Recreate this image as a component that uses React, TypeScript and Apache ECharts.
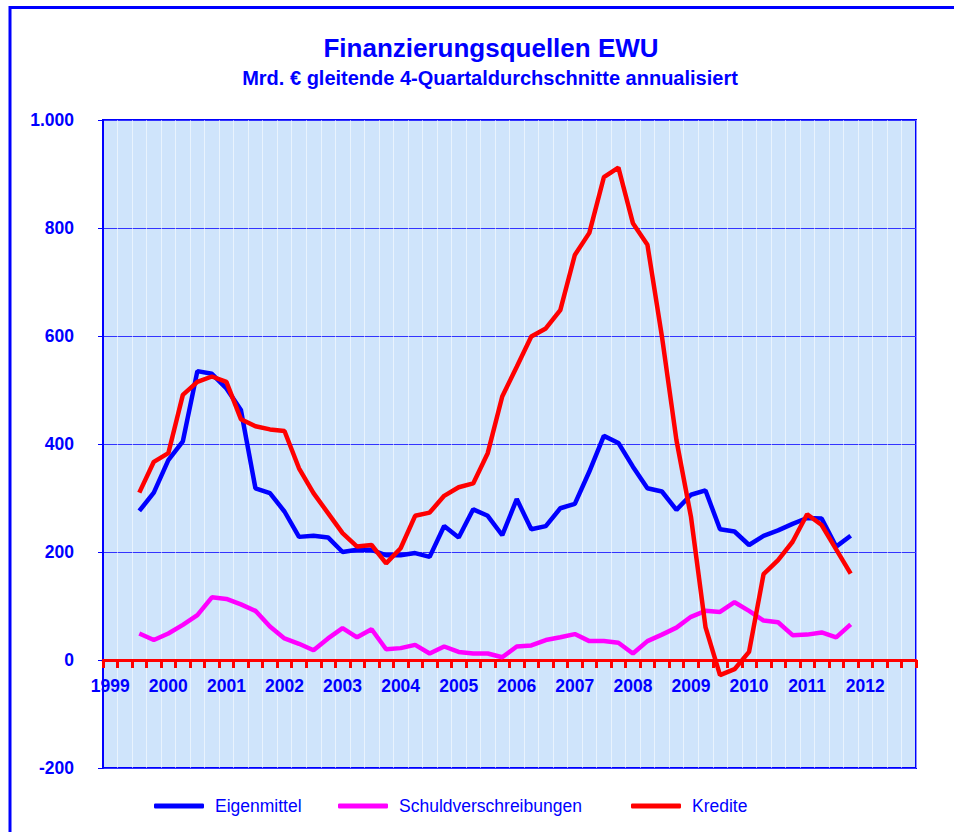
import React, { useEffect, useRef } from "react";
import * as echarts from "echarts";

const FONT = "'Liberation Sans', Arial, Helvetica, sans-serif";

const years = [1999, 2000, 2001, 2002, 2003, 2004, 2005, 2006, 2007, 2008, 2009, 2010, 2011, 2012];
const quarterNames = ["Q1", "Q2", "Q3", "Q4"];
const categories = years.flatMap((y) => quarterNames.map((q) => `${y} ${q}`));

// first observation: 1999 Q3 (category index 2), last: 2011 Q4
const firstIndex = 2;

const eigenmittel = [
  276, 310, 370, 405, 535, 530, 503, 463, 318, 309,
  275, 228, 230, 227, 200, 204, 204, 194, 194, 198,
  191, 248, 227, 279, 267, 231, 298, 242, 248, 281,
  289, 349, 415, 402, 358, 318, 312, 278, 306, 314,
  242, 238, 213, 230, 240, 252, 263, 262, 210, 230,
];

const schuldverschreibungen = [
  49, 37, 49, 65, 83, 116, 113, 103, 91, 62,
  40, 30, 18, 40, 59, 42, 57, 20, 22, 28,
  12, 25, 15, 12, 12, 5, 25, 27, 37, 42,
  48, 35, 35, 32, 12, 35, 47, 60, 80, 91,
  89, 107, 91, 73, 70, 46, 47, 51, 42, 66,
];

const kredite = [
  310, 367, 383, 491, 515, 525, 515, 446, 433, 427,
  424, 355, 309, 272, 235, 210, 213, 179, 207, 267,
  273, 304, 320, 327, 383, 488, 543, 599, 614, 648,
  750, 791, 894, 912, 809, 769, 599, 407, 265, 61,
  -28, -17, 15, 159, 185, 219, 270, 250, 205, 160,
];

const yTicks = { min: -200, max: 1000, interval: 200 };

function pad(values: number[]): (number | null)[] {
  const out: (number | null)[] = categories.map(() => null);
  values.forEach((v, i) => {
    out[firstIndex + i] = v;
  });
  return out;
}

const seriesDefs = [
  { name: "Eigenmittel", color: "#0000ff", values: eigenmittel, legendLeft: 149 },
  { name: "Schuldverschreibungen", color: "#ff00ff", values: schuldverschreibungen, legendLeft: 333 },
  { name: "Kredite", color: "#ff0000", values: kredite, legendLeft: 626 },
];

function formatY(v: number): string {
  const s = Math.abs(v).toString().replace(/\B(?=(\d{3})+(?!\d))/g, ".");
  return v < 0 ? "-" + s : s;
}

const GRID_TOP = 120;
const GRID_BOTTOM_PX = 768;

export default function App() {
  const ref = useRef<HTMLDivElement>(null);

  useEffect(() => {
    if (!ref.current) return;
    const chart = echarts.init(ref.current, undefined, { renderer: "svg" });
    // x axis sits on the zero line: shift it up by the pixel height of the range [min, 0]
    const plotH = GRID_BOTTOM_PX - GRID_TOP;
    const zeroShift = (plotH * (0 - yTicks.min)) / (yTicks.max - yTicks.min);
    const option: any = {
      animation: false,
      backgroundColor: "#ffffff",
      textStyle: { fontFamily: FONT },
      graphic: [
        {
          type: "rect",
          silent: true,
          shape: { x: 10, y: 7.5, width: 1200, height: 1200 },
          style: { fill: "none", stroke: "#0000ff", lineWidth: 3 },
        },
        {
          type: "text",
          x: 491,
          y: 48,
          style: {
            text: "Finanzierungsquellen EWU",
            fontSize: 26,
            fontWeight: "bold",
            fontFamily: FONT,
            fill: "#0000ff",
            textAlign: "center",
            textVerticalAlign: "middle",
          },
        },
        {
          type: "text",
          x: 490,
          y: 78,
          style: {
            text: "Mrd. € gleitende 4-Quartaldurchschnitte annualisiert",
            fontSize: 20,
            fontWeight: "bold",
            fontFamily: FONT,
            fill: "#0000ff",
            textAlign: "center",
            textVerticalAlign: "middle",
          },
        },
      ],
      grid: {
        left: 103,
        right: 38,
        top: GRID_TOP,
        bottom: 832 - GRID_BOTTOM_PX,
        show: true,
        backgroundColor: "#cfe4fb",
        borderColor: "#0000ff",
        borderWidth: 2,
      },
      legend: seriesDefs.map((s) => ({
        data: [s.name],
        left: s.legendLeft,
        top: 791,
        icon: "roundRect",
        itemWidth: 50,
        itemHeight: 5,
        selectedMode: false,
        textStyle: {
          color: "#0000ff",
          fontSize: 17.5,
          fontFamily: FONT,
          padding: [0, 0, 0, 6],
          lineHeight: 20,
        },
      })),
      xAxis: {
        type: "category",
        data: categories,
        boundaryGap: true,
        offset: -zeroShift,
        axisLine: { onZero: false, lineStyle: { color: "#ff0000", width: 3 } },
        axisTick: { show: true, interval: 0, length: 8, lineStyle: { color: "#ff0000", width: 3 } },
        axisLabel: {
          interval: (i: number) => i % 4 === 0,
          formatter: (v: string) => v.slice(0, 4),
          color: "#0000ff",
          fontWeight: "bold",
          fontSize: 17.5,
          fontFamily: FONT,
          margin: 17,
        },
        splitLine: { show: true, interval: 0, lineStyle: { color: "rgba(255,255,255,0.55)", width: 1 } },
      },
      yAxis: {
        type: "value",
        min: yTicks.min,
        max: yTicks.max,
        interval: yTicks.interval,
        axisLine: { show: true, lineStyle: { color: "#0000ff", width: 2 } },
        axisTick: { show: true, length: 5, lineStyle: { color: "#0000ff", width: 1 } },
        axisLabel: {
          formatter: (v: number) => formatY(v),
          color: "#0000ff",
          fontWeight: "bold",
          fontSize: 17.5,
          fontFamily: FONT,
          margin: 29,
        },
        splitLine: { show: true, lineStyle: { color: "#3333ff", width: 1 } },
      },
      series: seriesDefs.map((s) => ({
        name: s.name,
        type: "line",
        data: pad(s.values),
        symbol: "none",
        color: s.color,
        lineStyle: { color: s.color, width: 4.5 },
        itemStyle: { color: s.color },
      })),
    };
    chart.setOption(option);
    return () => chart.dispose();
  }, []);

  return (
    <div
      ref={ref}
      style={{ position: "fixed", left: 0, top: 0, width: 954, height: 832 }}
    />
  );
}
